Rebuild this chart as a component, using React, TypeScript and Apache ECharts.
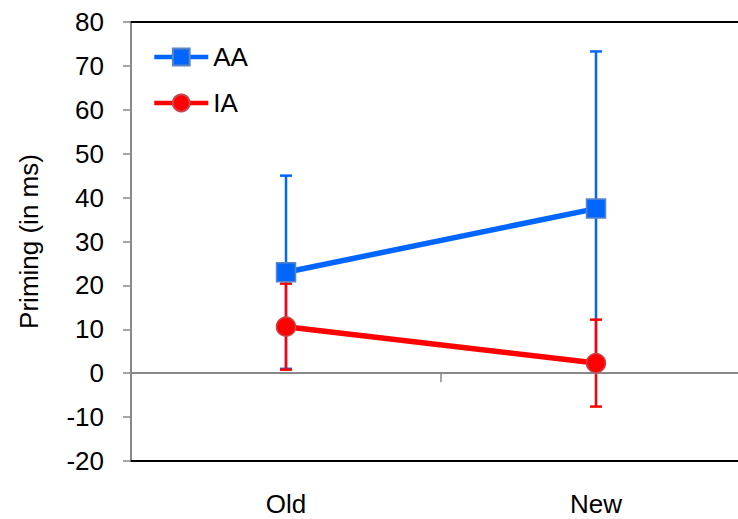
import React, { useEffect, useRef } from "react";
import * as echarts from "echarts";

const categories = ["Old", "New"];
const aaMean = [23.0, 37.5];
const aaErr = [22.0, 35.8];
const iaMean = [10.6, 2.3];
const iaErr = [9.8, 9.9];
const yTicks = { min: -20, max: 80, interval: 10 };

const BLUE = "#0066ff";
const RED = "#ff0000";
const FONT = "Liberation Sans";

function errorSeries(name: string, means: number[], errs: number[], color: string, z: number) {
  const data = means.map((m, i) => [i, m - errs[i], m + errs[i]]);
  return {
    type: "custom",
    name: name + "-err",
    xAxisIndex: 0,
    z,
    silent: true,
    data,
    renderItem: (params: any, api: any) => {
      const x = api.value(0);
      const lo = api.coord([x, api.value(1)]);
      const hi = api.coord([x, api.value(2)]);
      const half = 6;
      const style = { stroke: color, lineWidth: 2.5 };
      return {
        type: "group",
        children: [
          { type: "line", shape: { x1: lo[0], y1: lo[1], x2: hi[0], y2: hi[1] }, style },
          { type: "line", shape: { x1: lo[0] - half, y1: lo[1], x2: lo[0] + half, y2: lo[1] }, style },
          { type: "line", shape: { x1: hi[0] - half, y1: hi[1], x2: hi[0] + half, y2: hi[1] }, style },
        ],
      };
    },
  };
}

export default function App() {
  const ref = useRef<HTMLDivElement>(null);
  useEffect(() => {
    document.body.style.margin = "0";
    document.body.style.overflow = "hidden";
    if (!ref.current) return;
    const chart = echarts.init(ref.current, null, { renderer: "svg" });
    chart.setOption({
      animation: false,
      backgroundColor: "#fff",
      textStyle: { fontFamily: FONT },
      grid: { left: 131, top: 22, bottom: 58, width: 620, containLabel: false },
      legend: {
        orient: "vertical",
        left: 147,
        top: 39,
        itemWidth: 54,
        itemHeight: 21,
        itemGap: 20,
        lineStyle: { width: 4.5 },
        textStyle: { fontSize: 26, color: "#000", fontFamily: FONT },
        data: ["AA", "IA"],
      },
      xAxis: [
        {
          type: "category",
          data: categories,
          position: "bottom",
          axisLine: { onZero: true, lineStyle: { color: "#888", width: 2 } },
          axisTick: { show: true, length: 9, lineStyle: { color: "#888", width: 1.5 } },
          axisLabel: { show: false },
          z: 3,
        },
        {
          type: "category",
          data: categories,
          position: "top",
          axisLine: { onZero: false, lineStyle: { color: "#000", width: 2 } },
          axisTick: { show: false },
          axisLabel: { show: false },
        },
        {
          type: "category",
          data: categories,
          position: "bottom",
          axisLine: { onZero: false, lineStyle: { color: "#000", width: 2 } },
          axisTick: { show: false },
          axisLabel: { show: true, margin: 30, fontSize: 26, color: "#000", fontFamily: FONT },
        },
      ],
      yAxis: {
        type: "value",
        min: yTicks.min,
        max: yTicks.max,
        interval: yTicks.interval,
        name: "Priming (in ms)",
        nameLocation: "middle",
        nameGap: 89,
        nameTextStyle: { fontSize: 26, color: "#000", fontFamily: FONT },
        axisLine: { show: true, lineStyle: { color: "#888", width: 2 } },
        axisTick: { show: true, length: 8, lineStyle: { color: "#888", width: 1.5 } },
        axisLabel: { fontSize: 26, color: "#000", margin: 27, fontFamily: FONT },
        splitLine: { show: false },
      },
      series: [
        errorSeries("AA", aaMean, aaErr, BLUE, 2),
        errorSeries("IA", iaMean, iaErr, RED, 3),
        {
          type: "line",
          name: "AA",
          data: aaMean,
          xAxisIndex: 0,
          z: 4,
          symbol: "rect",
          symbolSize: 19,
          lineStyle: { color: BLUE, width: 5.5 },
          itemStyle: { color: BLUE, borderColor: "#5b86c4", borderWidth: 1.5 },
        },
        {
          type: "line",
          name: "IA",
          data: iaMean,
          xAxisIndex: 0,
          z: 5,
          symbol: "circle",
          symbolSize: 19,
          lineStyle: { color: RED, width: 5.5 },
          itemStyle: { color: RED, borderColor: "#c8474a", borderWidth: 1.5 },
        },
      ],
    });
    return () => chart.dispose();
  }, []);
  return (
    <div style={{ width: 738, height: 519, overflow: "hidden", position: "relative" }}>
      <div ref={ref} style={{ width: 762, height: 519, position: "absolute", left: 0, top: 0 }} />
    </div>
  );
}
